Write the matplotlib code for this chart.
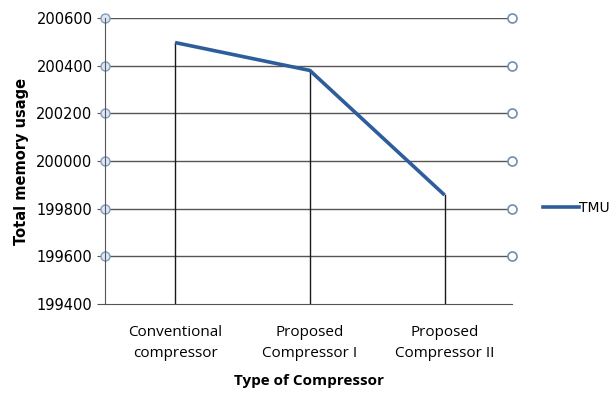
import matplotlib
matplotlib.use("Agg")
import matplotlib.pyplot as plt
from matplotlib.lines import Line2D

categories = ["Conventional\ncompressor", "Proposed\nCompressor I", "Proposed\nCompressor II"]
tmu = [200497, 200380, 199857]
yticks = [199400, 199600, 199800, 200000, 200200, 200400, 200600]
series_name = "TMU"

fig = plt.figure(figsize=(6.12, 3.94), dpi=100)
ax = fig.add_axes([105/612, 1-304/394, (512-105)/612, (304-18)/394])
x = list(range(len(categories)))
ax.set_xlim(-0.52, len(categories) - 0.5)
ax.set_ylim(yticks[0], yticks[-1])

grid_c = "#555555"
for yv in yticks[1:]:
    ax.axhline(yv, color=grid_c, lw=1.0, zorder=1)
# drop lines
for xi, yv in zip(x, tmu):
    ax.plot([xi, xi], [yticks[0], yv], color="#1a1a1a", lw=1.0, zorder=2)

ax.plot(x, tmu, color="#2D5D9B", lw=2.6, zorder=3, solid_capstyle="butt")

xl = ax.get_xlim()
mk_y = yticks[1:]
ax.plot([xl[0]] * len(mk_y), mk_y, ls="none", marker="o", ms=6.5, mfc="#dfe7f0",
        mec="#7f9dbd", mew=1.0, clip_on=False, zorder=4)
ax.plot([xl[1]] * len(mk_y), mk_y, ls="none", marker="o", ms=6.5, mfc="white",
        mec="#6f8fb0", mew=1.2, clip_on=False, zorder=4)

for s in ["top", "right"]:
    ax.spines[s].set_visible(False)
ax.spines["left"].set_color(grid_c)
ax.spines["bottom"].set_color(grid_c)
ax.spines["left"].set_zorder(5)

ax.set_yticks(yticks)
ax.set_yticklabels([str(v) for v in yticks], fontsize=10.5, family="DejaVu Sans")
ax.tick_params(axis="y", length=6, color=grid_c, pad=3)
ax.set_xticks(x)
ax.set_xticklabels(categories, fontsize=11, family="Open Sans", linespacing=1.6)
ax.tick_params(axis="x", length=0, pad=15)

ax.set_xlabel("Type of Compressor", fontsize=11, fontweight="bold", family="Open Sans", labelpad=9)
ax.set_ylabel("Total memory usage", fontsize=10.5, fontweight="bold", family="DejaVu Sans", labelpad=5)

h = Line2D([], [], color="#2D5D9B", lw=2.6)
fig.legend([h], [series_name], loc="center left", bbox_to_anchor=(530/612, 1-208/394),
           frameon=False, handlelength=2.6, handletextpad=0.0,
           prop={"family": "DejaVu Sans", "size": 10})

fig.savefig("out.png", dpi=100)
